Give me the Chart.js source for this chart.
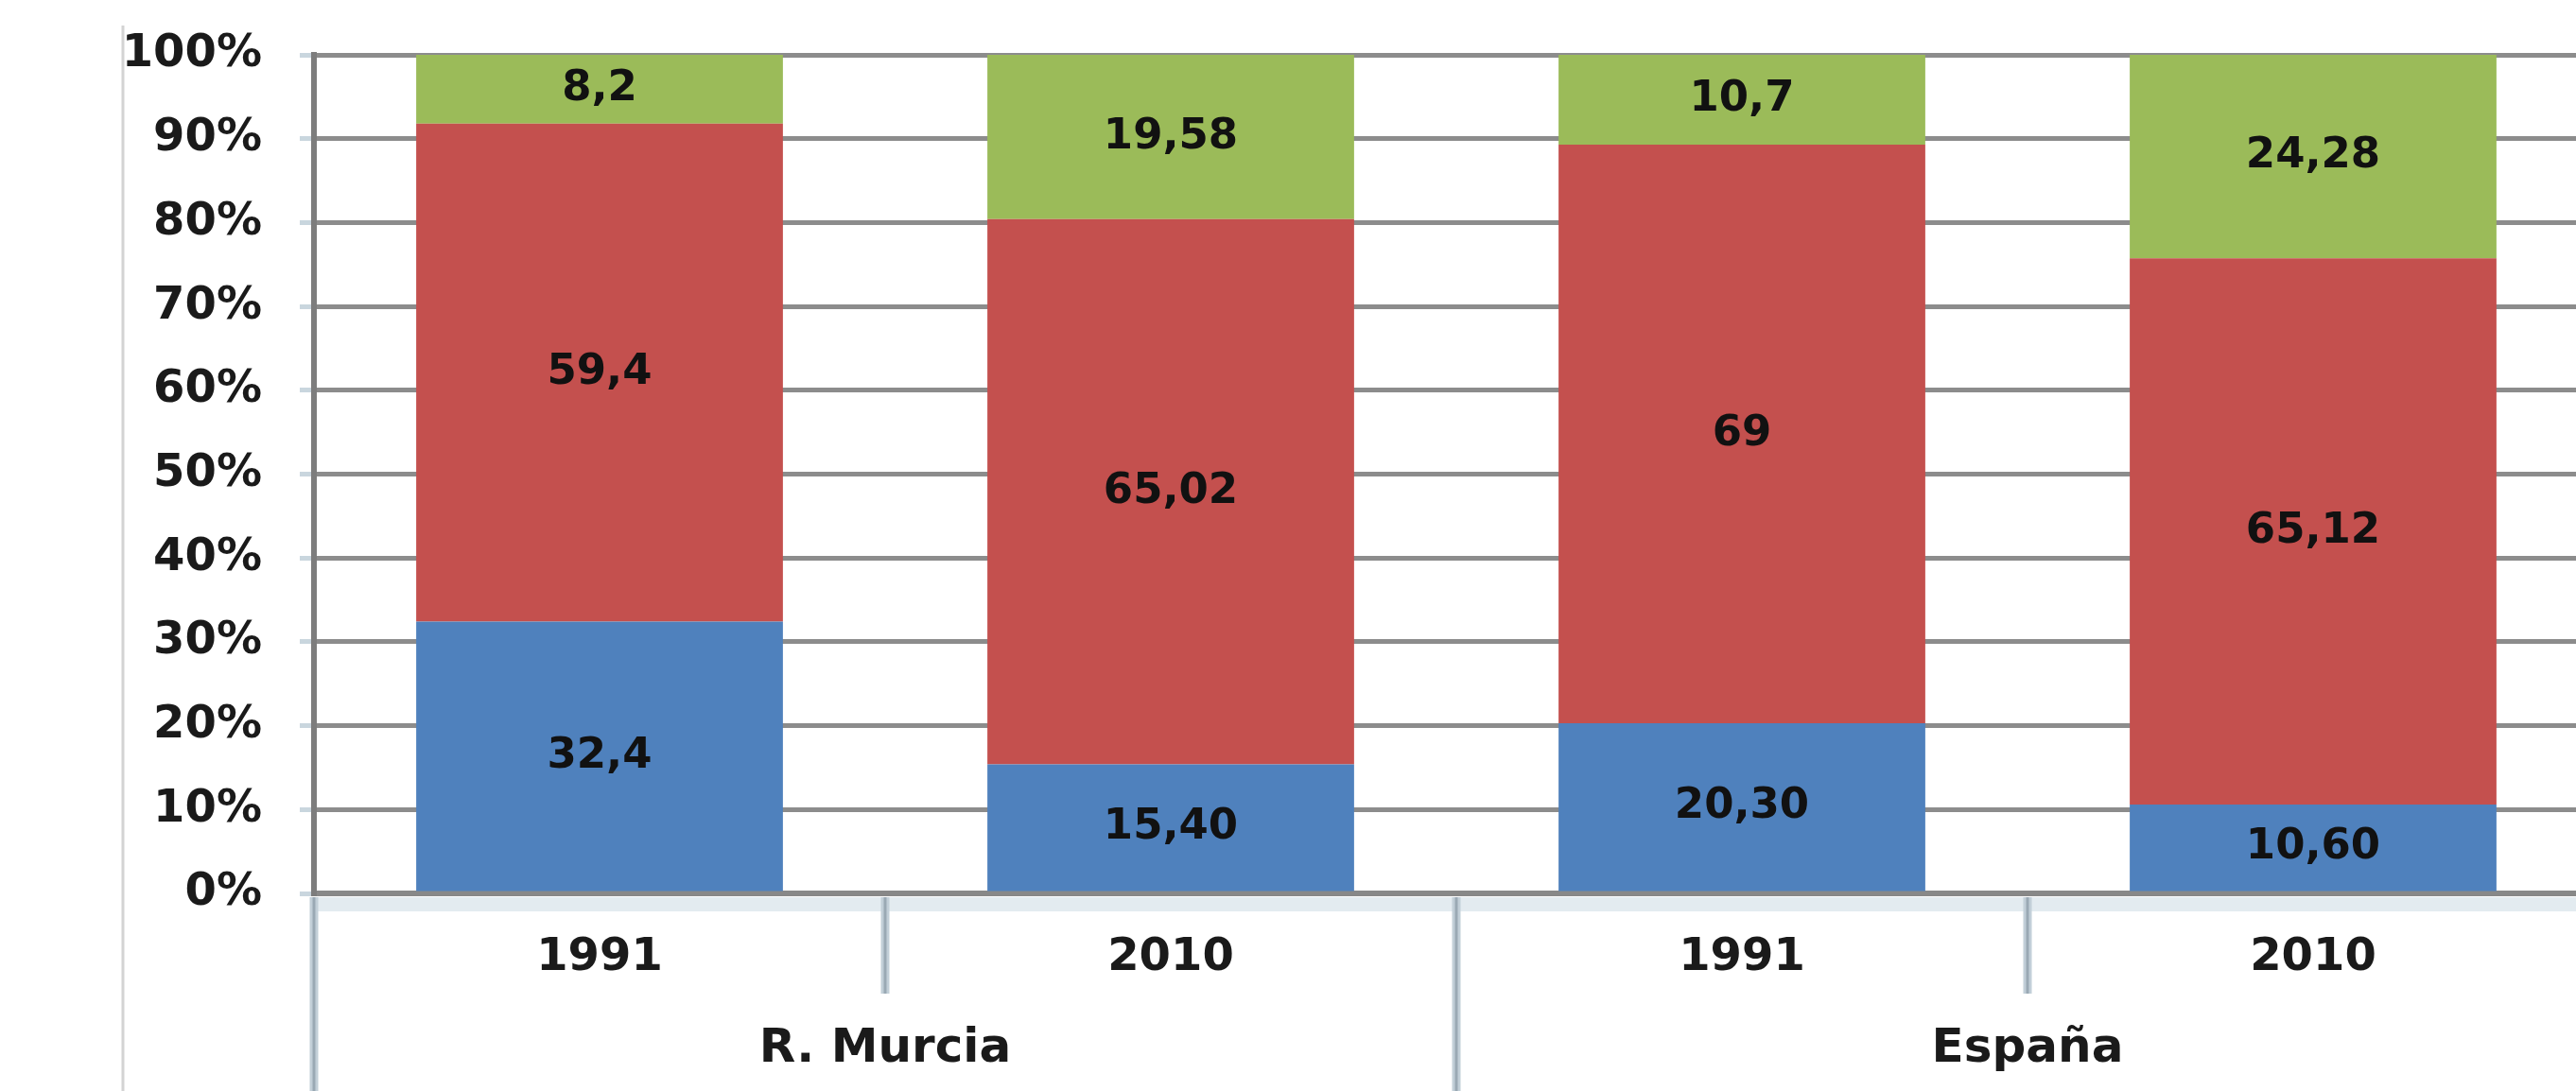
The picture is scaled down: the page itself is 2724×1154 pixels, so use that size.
<!DOCTYPE html>
<html>
<head>
<meta charset="utf-8">
<script src="https://cdn.jsdelivr.net/npm/chart.js@4.4.1/dist/chart.umd.min.js"></script>
<style>
  html, body { margin: 0; padding: 0; background: #fff; overflow: hidden; }
  #wrap { position: absolute; left: 0; top: 0; width: 2800px; height: 1154px; }
</style>
</head>
<body>
<div id="wrap"><canvas id="chart"></canvas></div>
<script>
// categories and groups
const years = ['1991', '2010', '1991', '2010'];
const groups = ['R. Murcia', 'España'];
const groupSize = 2;

// values as printed on the bars (comma decimals)
const blueVals = ['32,4', '15,40', '20,30', '10,60'];
const redVals = ['59,4', '65,02', '69', '65,12'];
const greenVals = ['8,2', '19,58', '10,7', '24,28'];

const toNum = arr => arr.map(s => parseFloat(s.replace(',', '.')));

const FONT = 'DejaVu Sans';

// value labels centred in each segment
const valueLabels = {
    id: 'valueLabels',
    afterDatasetsDraw(chart) {
        const ctx = chart.ctx;
        ctx.save();
        ctx.font = `bold 45px "${FONT}"`;
        ctx.textAlign = 'center';
        ctx.textBaseline = 'middle';
        ctx.fillStyle = '#111';
        chart.data.datasets.forEach((ds, i) => {
            chart.getDatasetMeta(i).data.forEach((bar, j) => {
                ctx.fillText(ds.texts[j], bar.x, (bar.y + bar.base) / 2);
            });
        });
        ctx.restore();
    }
};

// separators under the axis + group labels
const categoryFrame = {
    id: 'categoryFrame',
    afterDraw(chart) {
        const x = chart.scales.x;
        const ctx = chart.ctx;
        const bottom = chart.height;
        const axisY = x.top;
        const step = (x.right - x.left) / years.length;
        ctx.save();

        // outer frame line on the far left
        ctx.strokeStyle = '#d3d3d3';
        ctx.lineWidth = 3;
        ctx.beginPath();
        ctx.moveTo(130, 27);
        ctx.lineTo(130, bottom);
        ctx.stroke();

        // light band under the axis
        ctx.fillStyle = '#e3ebf0';
        ctx.fillRect(x.left, axisY + 4, x.right - x.left, 15);

        for (let i = 0; i <= years.length; i++) {
            const px = x.left + i * step;
            const end = i % groupSize === 0 ? bottom : axisY + 106;
            ctx.strokeStyle = '#c2cfd8';
            ctx.lineWidth = 9;
            ctx.beginPath();
            ctx.moveTo(px, axisY + 4);
            ctx.lineTo(px, end);
            ctx.stroke();
            ctx.strokeStyle = '#9aa9b4';
            ctx.lineWidth = 3;
            ctx.beginPath();
            ctx.moveTo(px, axisY + 4);
            ctx.lineTo(px, end);
            ctx.stroke();
        }

        ctx.font = `bold 50px "${FONT}"`;
        ctx.textAlign = 'center';
        ctx.textBaseline = 'middle';
        ctx.fillStyle = '#1a1a1a';
        groups.forEach((g, k) => {
            const cx = x.left + (k * groupSize + groupSize / 2) * step;
            ctx.fillText(g, cx, axisY + 165);
        });
        ctx.restore();
    }
};

new Chart(document.getElementById('chart'), {
    type: 'bar',
    data: {
        labels: years,
        datasets: [
            { label: 'Serie 1', data: toNum(blueVals), texts: blueVals, backgroundColor: '#4f81bd' },
            { label: 'Serie 2', data: toNum(redVals), texts: redVals, backgroundColor: '#c4504e' },
            { label: 'Serie 3', data: toNum(greenVals), texts: greenVals, backgroundColor: '#9bbb59' }
        ]
    },
    options: {
        responsive: true,
        maintainAspectRatio: false,
        animation: false,
        layout: { padding: { left: 0, right: 52, top: 58, bottom: 0 } },
        datasets: { bar: { categoryPercentage: 1, barPercentage: 0.642 } },
        plugins: {
            legend: { display: false },
            tooltip: { enabled: false }
        },
        scales: {
            x: {
                stacked: true,
                grid: { display: false },
                border: { display: true, color: '#888', width: 6 },
                ticks: {
                    color: '#1a1a1a',
                    padding: 32,
                    font: { family: FONT, weight: 'bold', size: 48 }
                },
                afterFit(scale) { scale.height = 209; }
            },
            y: {
                stacked: true,
                min: 0,
                max: 100,
                ticks: {
                    stepSize: 10,
                    padding: 40,
                    color: '#1a1a1a',
                    font: { family: FONT, weight: 'bold', size: 48 },
                    callback: v => v + '%'
                },
                grid: { color: '#8c8c8c', lineWidth: 5, tickLength: 15, tickColor: '#c9d6de' },
                border: { color: '#7d7d7d', width: 6 },
                afterFit(scale) {
                    scale.width = 332;
                    scale.paddingTop = 0;
                    scale.paddingBottom = 0;
                }
            }
        }
    },
    plugins: [valueLabels, categoryFrame]
});
</script>
</body>
</html>
